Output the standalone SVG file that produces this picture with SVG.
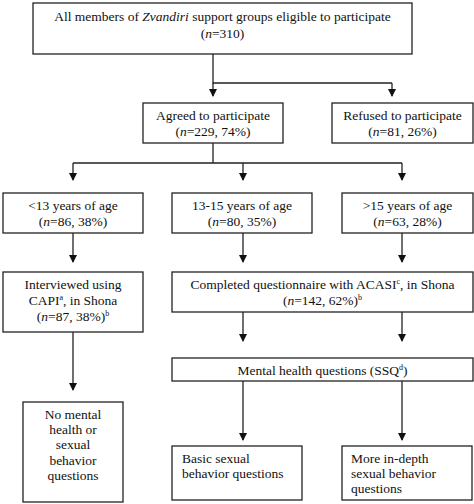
<svg xmlns="http://www.w3.org/2000/svg" width="474" height="504" viewBox="0 0 474 504">
<defs>
<marker id="ah" markerWidth="8" markerHeight="8" refX="7" refY="4" orient="auto" markerUnits="userSpaceOnUse"><path d="M0,0 L8,4 L0,8 Z" fill="#111"/></marker>
<style>
rect{fill:#fff;stroke:#222;stroke-width:1.3}
text{font-family:"Liberation Serif","Times New Roman",serif;font-size:13.5px;fill:#111}
.c{text-anchor:middle}
.l{stroke:#222;stroke-width:1.3;fill:none}
.a{stroke:#222;stroke-width:1.3;fill:none;marker-end:url(#ah)}
</style>
</defs>
<rect x="0" y="0" width="474" height="504" style="fill:#fff;stroke:none"/>
<g id="connectors">
<path class="l" d="M213,54 V83 H392"/>
<path class="a" d="M213,83 V96"/>
<path class="a" d="M392,83 V96"/>
<path class="l" d="M213,143 V163 M73,163 H402"/>
<path class="a" d="M73,163 V180"/>
<path class="a" d="M243,163 V180"/>
<path class="a" d="M402,163 V180"/>
<path class="a" d="M73,233 V262"/>
<path class="a" d="M243,233 V262"/>
<path class="a" d="M402,233 V262"/>
<path class="a" d="M73,332 V390"/>
<path class="a" d="M243,312 V341"/>
<path class="a" d="M402,312 V341"/>
<path class="a" d="M243,381 V440"/>
<path class="a" d="M402,381 V440"/>
</g>
<g id="n1"><rect x="33" y="3" width="379" height="51"/>
<text class="c" x="222.5" y="21">All members of <tspan font-style="italic">Zvandiri</tspan> support groups eligible to participate</text>
<text class="c" x="222.5" y="38">(<tspan font-style="italic">n</tspan>=310)</text></g>
<g id="n2"><rect x="143" y="103" width="140" height="40"/>
<text class="c" x="213" y="120">Agreed to participate</text>
<text class="c" x="213" y="136">(<tspan font-style="italic">n</tspan>=229, 74%)</text></g>
<g id="n3"><rect x="332" y="103" width="141" height="40"/>
<text class="c" x="402.5" y="120">Refused to participate</text>
<text class="c" x="402.5" y="136">(<tspan font-style="italic">n</tspan>=81, 26%)</text></g>
<g id="n4"><rect x="3" y="193" width="140" height="40"/>
<text class="c" x="73" y="210">&lt;13 years of age</text>
<text class="c" x="73" y="226">(<tspan font-style="italic">n</tspan>=86, 38%)</text></g>
<g id="n5"><rect x="172" y="193" width="140" height="40"/>
<text class="c" x="242" y="210">13-15 years of age</text>
<text class="c" x="242" y="226">(<tspan font-style="italic">n</tspan>=80, 35%)</text></g>
<g id="n6"><rect x="342" y="193" width="131" height="40"/>
<text class="c" x="407.5" y="210">&gt;15 years of age</text>
<text class="c" x="407.5" y="226">(<tspan font-style="italic">n</tspan>=63, 28%)</text></g>
<g id="n7"><rect x="3" y="272" width="140" height="60"/>
<text class="c" x="73" y="289">Interviewed using</text>
<text class="c" x="73" y="305">CAPI<tspan font-size="8" dy="-5">a</tspan><tspan dy="5">, in Shona</tspan></text>
<text class="c" x="73" y="321">(<tspan font-style="italic">n</tspan>=87, 38%)<tspan font-size="8" dy="-5">b</tspan></text></g>
<g id="n8"><rect x="172" y="272" width="301" height="40"/>
<text class="c" x="322.5" y="289">Completed questionnaire with ACASI<tspan font-size="8" dy="-5">c</tspan><tspan dy="5">, in Shona</tspan></text>
<text class="c" x="322.5" y="305">(<tspan font-style="italic">n</tspan>=142, 62%)<tspan font-size="8" dy="-5">b</tspan></text></g>
<g id="n9"><rect x="172" y="358" width="301" height="23"/>
<text class="c" x="322.5" y="375">Mental health questions (SSQ<tspan font-size="8" dy="-5">d</tspan><tspan dy="5">)</tspan></text></g>
<g id="n10"><rect x="23" y="402" width="100" height="100"/>
<text class="c" x="73" y="419">No mental</text>
<text class="c" x="73" y="434">health or</text>
<text class="c" x="73" y="449">sexual</text>
<text class="c" x="73" y="465">behavior</text>
<text class="c" x="73" y="480">questions</text></g>
<g id="n11"><rect x="172" y="446" width="130" height="54"/>
<text x="182" y="463">Basic sexual</text>
<text x="182" y="478">behavior questions</text></g>
<g id="n12"><rect x="342" y="446" width="130" height="54"/>
<text x="351" y="463">More in-depth</text>
<text x="351" y="478">sexual behavior</text>
<text x="351" y="493">questions</text></g>
</svg>
